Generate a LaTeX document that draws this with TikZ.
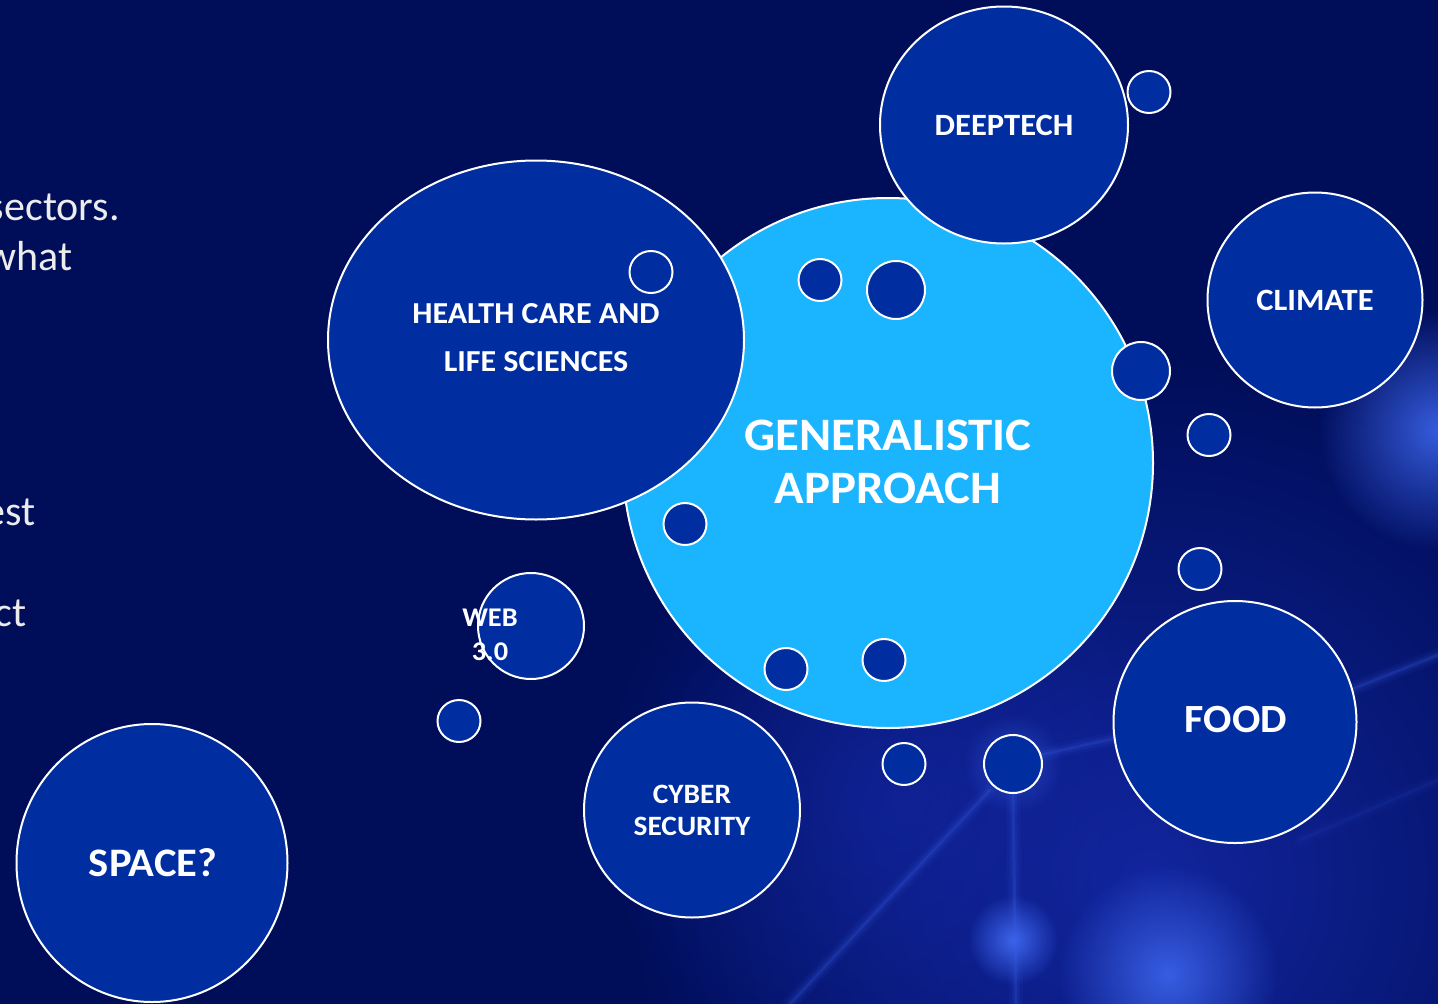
\documentclass[tikz,border=0pt]{standalone}
\usepackage{fontspec}
\setmainfont{Carlito}
\newfontfamily\lblfont{Carlito}[FakeStretch=1.05]
\usetikzlibrary{shapes.geometric,fadings}
\tikzfading[name=glowfade, inner color=transparent!0, outer color=transparent!100]
\definecolor{bgc}{RGB}{0,14,90}
\definecolor{navyc}{RGB}{0,46,160}
\definecolor{cyanc}{RGB}{27,180,255}
\definecolor{glowc}{RGB}{60,100,235}
\definecolor{hazec}{RGB}{20,40,165}
\definecolor{textg}{RGB}{236,236,236}
\begin{document}
\begin{tikzpicture}[x=1pt,y=-1pt,
  bub/.style={ellipse, draw=white, line width=2pt, fill=navyc, inner sep=0pt},
  dot/.style={ellipse, draw=white, line width=2pt, fill=navyc, inner sep=0pt},
  lbl/.style={text=white, align=center, inner sep=0pt},
  side/.style={text=textg, inner sep=0pt, anchor=base east, font=\fontsize{42}{50}\selectfont},
  glowline/.style={glowc, line cap=round}
]
\useasboundingbox (0,0) rectangle (1438,1004);
\clip (0,0) rectangle (1438,1004);
\fill[bgc] (0,0) rectangle (1438,1004);
% background haze and glows
\fill[hazec, path fading=glowfade, opacity=0.9] (1150,880) circle (520);
\fill[hazec, path fading=glowfade, opacity=0.6] (900,800) circle (300);
\fill[glowc, path fading=glowfade, opacity=0.9] (1438,430) circle (120);
\fill[glowc, path fading=glowfade, opacity=0.9] (1168,975) circle (110);
\fill[glowc, path fading=glowfade, opacity=1] (1013,940) circle (45);
\fill[glowc, path fading=glowfade, opacity=0.5] (1013,764) circle (50);
\foreach \w/\o in {14/0.07,8/0.1,3/0.2}{
  \draw[glowline, line width=\w pt, opacity=\o] (1013,790) -- (1016,1004);
  \draw[glowline, line width=\w pt, opacity=\o] (990,790) -- (790,1004);
  \draw[glowline, line width=\w pt, opacity=\o] (1040,755) -- (1130,735);
  \draw[glowline, line width=\w pt, opacity=\o] (1350,690) -- (1438,655);
  \draw[glowline, line width=\w pt, opacity=\o*0.4] (1300,840) -- (1438,780);
}
% left side text (cut off by the slide edge)
\node[side] (t1) at (120,220) {sectors.};
\node[side] (t2) at (73,270) {what};
\node[side] (t3) at (36,525) {est};
\node[side] (t4) at (27,626) {ct};
% main bubbles
\node[bub, fill=cyanc, minimum width=530, minimum height=530] (gen) at (888,463) {};
\node[lbl, font=\lblfont\bfseries\fontsize{46.5}{53}\selectfont] (genl) at (888,462) {GENERALISTIC\\APPROACH};
\node[bub, minimum width=416, minimum height=359] (health) at (536,340) {};
\node[lbl, font=\lblfont\bfseries\fontsize{30.5}{48}\selectfont] (healthl) at (536,338) {HEALTH CARE AND\\LIFE SCIENCES};
\node[bub, minimum width=248, minimum height=237] (deep) at (1004,125) {};
\node[lbl, font=\lblfont\bfseries\fontsize{31}{35}\selectfont] (deepl) at (1004,125) {DEEPTECH};
\node[bub, minimum width=215, minimum height=215] (climate) at (1315,300) {};
\node[lbl, font=\lblfont\bfseries\fontsize{31}{35}\selectfont] (climatel) at (1315,300) {CLIMATE};
\node[bub, minimum width=243, minimum height=242] (food) at (1235,722) {};
\node[lbl, font=\lblfont\bfseries\fontsize{40}{45}\selectfont] (foodl) at (1236,720) {FOOD};
\node[bub, minimum width=216, minimum height=215] (cyber) at (692,810) {};
\node[lbl, font=\lblfont\bfseries\fontsize{28}{32}\selectfont] (cyberl) at (692,810) {CYBER\\SECURITY};
\node[bub, minimum width=271, minimum height=278] (space) at (152,863) {};
\node[lbl, font=\lblfont\bfseries\fontsize{40.5}{45}\selectfont] (spacel) at (153,863) {SPACE?};
\node[bub, minimum width=106, minimum height=106] (web) at (531,626) {};
\node[lbl, font=\lblfont\bfseries\fontsize{27}{34}\selectfont] (webl) at (490,635) {WEB\\3.0};
% small bubbles
\node[dot, minimum width=43, minimum height=42] (d1) at (1149,92) {};
\node[dot, minimum width=43, minimum height=42] (d2) at (820,280) {};
\node[dot, minimum width=58, minimum height=58] (d3) at (896,290) {};
\node[dot, minimum width=58, minimum height=58] (d4) at (1141,371) {};
\node[dot, minimum width=43, minimum height=42] (d5) at (1209,435) {};
\node[dot, minimum width=43, minimum height=42] (d6) at (1200,569) {};
\node[dot, minimum width=43, minimum height=42] (d7) at (685,524) {};
\node[dot, minimum width=43, minimum height=42] (d8) at (786,669) {};
\node[dot, minimum width=43, minimum height=42] (d9) at (884,660) {};
\node[dot, minimum width=43, minimum height=42] (d10) at (904,764) {};
\node[dot, minimum width=58, minimum height=58] (d11) at (1013,764) {};
\node[dot, minimum width=43, minimum height=42] (d12) at (651,272) {};
\node[dot, minimum width=43, minimum height=42] (d13) at (459,721) {};
\end{tikzpicture}
\end{document}
